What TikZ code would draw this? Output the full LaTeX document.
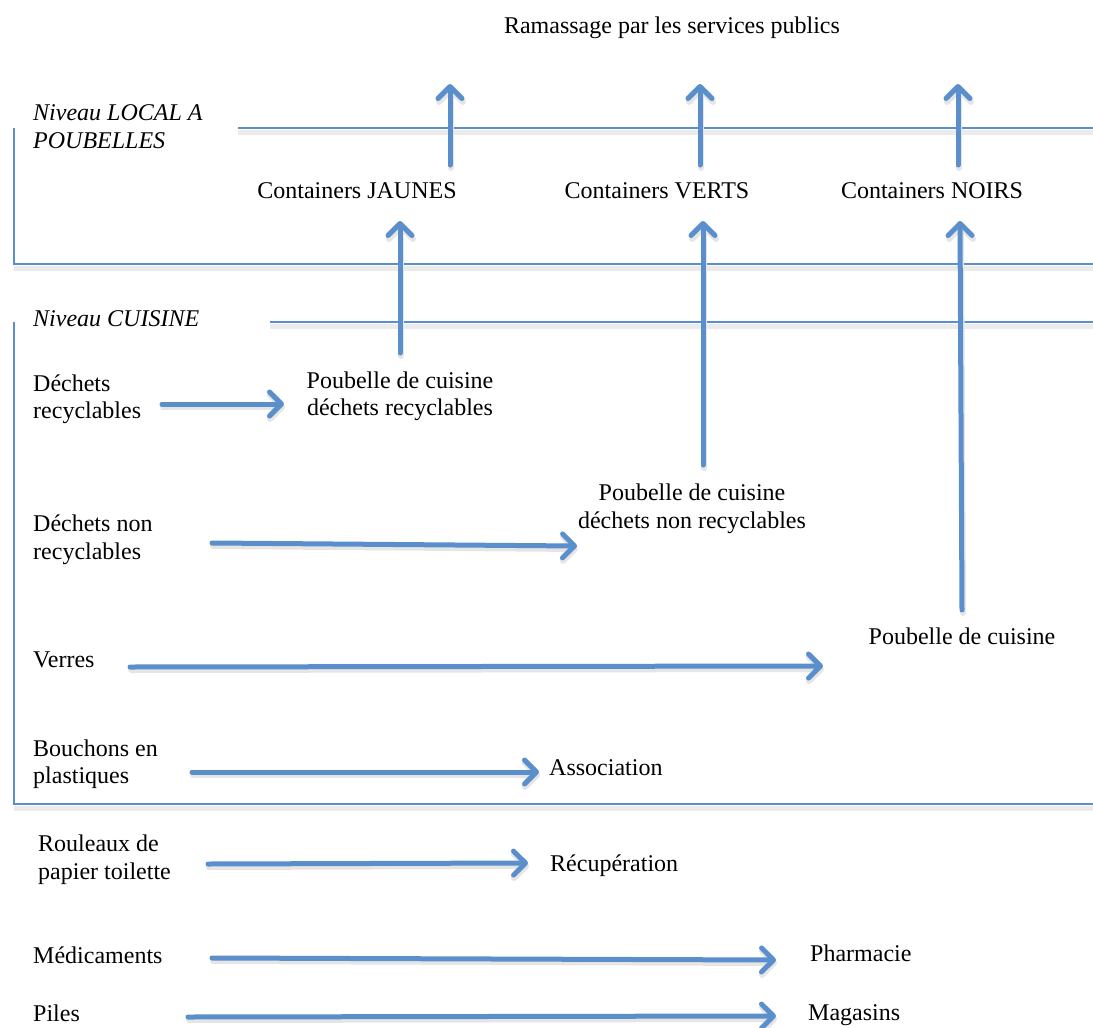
\documentclass[tikz,border=0pt]{standalone}
\usepackage{fontspec}
\setmainfont{Liberation Serif}
\usetikzlibrary{arrows.meta}
\definecolor{ablue}{RGB}{91,143,204}
\tikzset{
  txt/.style={inner sep=0pt, font=\fontsize{24}{27.5}\selectfont},
  itxt/.style={txt, font=\fontsize{24}{27.5}\selectfont\itshape},
  arr/.style={draw=ablue, line width=5pt, line cap=round,
    -{Straight Barb[length=12pt,width=24pt,round]}},
  arrshadow/.style={draw=black!10, line width=6pt, line cap=round,
    -{Straight Barb[length=12pt,width=24pt,round]}},
  frame/.style={draw=ablue, line width=1.6pt},
  frameshadow/.style={draw=black!8, line width=5pt},
}
\newcommand\garrow[2]{%
  \draw[arrshadow, transform canvas={xshift=1pt,yshift=-3pt}] (#1) -- (#2);
  \draw[arr] (#1) -- (#2);}
\begin{document}
\begin{tikzpicture}[x=1pt,y=-1pt]
\useasboundingbox (0,0) rectangle (1093,1028);
% frames
\coordinate (f1a) at (238,128); \coordinate (f1b) at (1093,128);
\coordinate (f1c) at (14,128); \coordinate (f1d) at (14,264); \coordinate (f1e) at (1093,264);
\coordinate (f2a) at (270,322); \coordinate (f2b) at (1093,322);
\coordinate (f2c) at (14,322); \coordinate (f2d) at (14,804); \coordinate (f2e) at (1093,804);
\draw[frameshadow] ([yshift=-4pt]f1a) -- ([yshift=-4pt]f1b);
\draw[frameshadow] ([yshift=-4pt]f1d) -- ([yshift=-4pt]f1e);
\draw[frameshadow] ([yshift=-4pt]f2a) -- ([yshift=-4pt]f2b);
\draw[frameshadow] ([yshift=-4pt]f2d) -- ([yshift=-4pt]f2e);
\draw[frame] (f1a) -- (f1b);
\draw[frame] (f1c) -- (f1d) -- (f1e);
\draw[frame] (f2a) -- (f2b);
\draw[frame] (f2c) -- (f2d) -- (f2e);
% texts
\node[txt, anchor=base] (ram) at (672,33) {Ramassage par les services publics};
\node[itxt, anchor=base west] (nl1) at (33,120) {Niveau LOCAL A};
\node[itxt, anchor=base west] (nl2) at (33,148) {POUBELLES};
\node[itxt, anchor=base west] (nc) at (33,326) {Niveau CUISINE};
\node[txt, anchor=base] (cj) at (357,198) {Containers JAUNES};
\node[txt, anchor=base] (cv) at (657,198) {Containers VERTS};
\node[txt, anchor=base] (cn) at (932,198) {Containers NOIRS};
\node[txt, anchor=base west] (dr1) at (33,391) {Déchets};
\node[txt, anchor=base west] (dr2) at (33,418) {recyclables};
\node[txt, anchor=base] (pr1) at (400,388) {Poubelle de cuisine};
\node[txt, anchor=base] (pr2) at (400,415) {déchets recyclables};
\node[txt, anchor=base west] (dn1) at (33,531) {Déchets non};
\node[txt, anchor=base west] (dn2) at (33,559) {recyclables};
\node[txt, anchor=base] (pn1) at (692,500) {Poubelle de cuisine};
\node[txt, anchor=base] (pn2) at (692,528) {déchets non recyclables};
\node[txt, anchor=base west] (ve) at (33,667) {Verres};
\node[txt, anchor=base] (pc) at (962,644) {Poubelle de cuisine};
\node[txt, anchor=base west] (bo1) at (33,756) {Bouchons en};
\node[txt, anchor=base west] (bo2) at (33,783) {plastiques};
\node[txt, anchor=base west] (as) at (549,775) {Association};
\node[txt, anchor=base west] (ro1) at (38,851) {Rouleaux de};
\node[txt, anchor=base west] (ro2) at (38,879) {papier toilette};
\node[txt, anchor=base west] (re) at (550,871) {Récupération};
\node[txt, anchor=base west] (me) at (33,963) {Médicaments};
\node[txt, anchor=base west] (ph) at (810,961) {Pharmacie};
\node[txt, anchor=base west] (pi) at (33,1021) {Piles};
\node[txt, anchor=base west] (ma) at (808,1020) {Magasins};
% arrow endpoints
\coordinate (u1s) at (450,165); \coordinate (u1e) at (450,84);
\coordinate (u2s) at (700,165); \coordinate (u2e) at (700,84);
\coordinate (u3s) at (958,165); \coordinate (u3e) at (958,84);
\coordinate (k1s) at (400,353); \coordinate (k1e) at (400,221);
\coordinate (k2s) at (703,465); \coordinate (k2e) at (703,221);
\coordinate (k3s) at (962,610); \coordinate (k3e) at (960,221);
\coordinate (h1s) at (162,404); \coordinate (h1e) at (284,404);
\coordinate (h2s) at (212,543); \coordinate (h2e) at (577,546);
\coordinate (h3s) at (130,667); \coordinate (h3e) at (823,666);
\coordinate (h4s) at (192,772); \coordinate (h4e) at (539,772);
\coordinate (h5s) at (208,864); \coordinate (h5e) at (528,863);
\coordinate (h6s) at (212,958); \coordinate (h6e) at (776,960);
\coordinate (h7s) at (188,1017); \coordinate (h7e) at (776,1016);
\garrow{u1s}{u1e}\garrow{u2s}{u2e}\garrow{u3s}{u3e}
\garrow{k1s}{k1e}\garrow{k2s}{k2e}\garrow{k3s}{k3e}
\garrow{h1s}{h1e}\garrow{h2s}{h2e}\garrow{h3s}{h3e}
\garrow{h4s}{h4e}\garrow{h5s}{h5e}\garrow{h6s}{h6e}\garrow{h7s}{h7e}
\end{tikzpicture}
\end{document}
